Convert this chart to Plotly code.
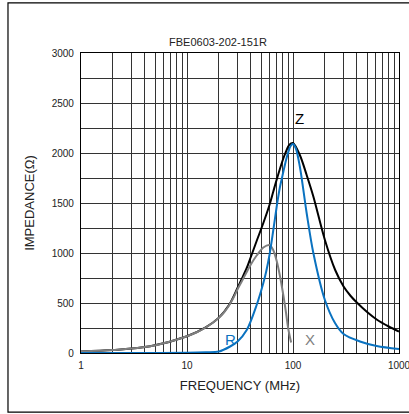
import math
import plotly.graph_objects as go

# Impedance vs frequency for FBE0603-202-151R
freq_z = [1, 2, 4.5, 10, 15, 20, 25, 30, 33, 36.6, 40, 45.4, 52.5, 60, 65, 70.2,
          81, 86, 90.3, 96, 100, 116, 134.5, 155.6, 200, 250, 300, 350, 400, 500,
          616, 800, 1000]
z_vals = [15, 30, 67, 168, 256, 354, 482, 652, 745, 850, 960, 1120, 1300, 1480,
          1610, 1735, 1945, 2015, 2068, 2096, 2100, 1980, 1780, 1565, 1130, 830,
          665, 570, 505, 410, 335, 265, 215]

freq_x = [1, 2, 4.5, 10, 12.5, 15, 17.5, 20, 22.5, 25, 27.5, 30, 33, 36.6, 40,
          45.4, 52.5, 60, 65, 70.2, 75, 81, 86, 90.3, 96]
x_vals = [15, 30, 67, 168, 210, 255, 302, 352, 410, 478, 555, 638, 720, 810, 885,
          975, 1055, 1080, 1030, 920, 780, 580, 400, 240, 105]

freq_r = [1, 5, 10, 15, 20, 25.5, 30, 36.6, 45.4, 52.5, 56, 60, 65, 70.2, 75, 81,
          86, 90.3, 95, 100, 106, 116, 134.5, 155.6, 200, 249, 300, 428, 616, 1000]
r_vals = [0, 0, 3, 8, 15, 65, 115, 230, 480, 700, 820, 980, 1220, 1465, 1650, 1810,
          1930, 2010, 2070, 2090, 2050, 1865, 1400, 1000, 530, 300, 190, 115, 70, 40]

x_ticks = [m * 10 ** d for d in range(3) for m in range(1, 10)] + [1000]
x_ticktext = [str(v) if v in (1, 10, 100, 1000) else "" for v in x_ticks]
y_ticks = list(range(0, 3001, 250))
y_ticktext = [str(v) if v % 500 == 0 else "" for v in y_ticks]

BLACK = "#000000"
BLUE = "#0a72c0"
GRAY = "#7f7f7f"
FONT = "Liberation Sans, Arial, sans-serif"
NARROW = "Liberation Sans Narrow, Liberation Sans, Arial, sans-serif"

fig = go.Figure()
fig.add_trace(go.Scatter(x=freq_z, y=z_vals, mode="lines", name="Z",
                         line=dict(color=BLACK, width=2, shape="spline", smoothing=0.9)))
fig.add_trace(go.Scatter(x=freq_x, y=x_vals, mode="lines", name="X",
                         line=dict(color=GRAY, width=2, shape="spline", smoothing=0.9)))
fig.add_trace(go.Scatter(x=freq_r, y=r_vals, mode="lines", name="R",
                         line=dict(color=BLUE, width=2, shape="spline", smoothing=0.9)))

# curve labels (annotation x on a log axis is given in log10 units)
labels = [("Z", 116, 2350, BLACK), ("R", 26, 140, BLUE), ("X", 145, 140, GRAY)]
for text, fx, fy, col in labels:
    fig.add_annotation(x=math.log10(fx), y=fy, text=text, showarrow=False,
                       xref="x", yref="y",
                       font=dict(family=NARROW, size=15, color=col))

# outer frame around the whole chart
fig.add_shape(type="rect", xref="paper", yref="paper",
              x0=-0.2296, x1=1.05, y0=-0.197, y1=1.167,
              line=dict(color="#000000", width=1.2), layer="below")

fig.update_layout(
    width=409, height=414,
    margin=dict(l=81, r=10, t=53, b=61),
    paper_bgcolor="white", plot_bgcolor="white",
    showlegend=False,
    font=dict(family=FONT, size=10, color="#222222"),
    title=dict(text="FBE0603-202-151R", x=0.533, xanchor="center",
               y=1 - 42 / 414, yanchor="middle",
               font=dict(family=FONT, size=11, color="#222222")),
)
fig.update_xaxes(
    type="log", range=[0, 3], automargin=False,
    tickmode="array", tickvals=x_ticks, ticktext=x_ticktext,
    ticklabeloverflow="allow",
    showgrid=True, gridcolor="#333333", gridwidth=1.3,
    showline=True, linecolor="#000000", linewidth=1.2, mirror=True,
    ticks="outside", ticklen=3, tickcolor="rgba(0,0,0,0)",
    tickfont=dict(family=FONT, size=10, color="#222222"),
    title=dict(text="FREQUENCY (MHz)", font=dict(family=FONT, size=13, color="#222222"),
               standoff=10),
    zeroline=False,
)
fig.update_yaxes(
    range=[0, 3000],
    tickmode="array", tickvals=y_ticks, ticktext=y_ticktext,
    showgrid=True, gridcolor="#333333", gridwidth=1.3,
    showline=True, linecolor="#000000", linewidth=1.2, mirror=True,
    ticks="outside", ticklen=4, tickcolor="rgba(0,0,0,0)",
    tickfont=dict(family=FONT, size=10, color="#222222"),
    title=dict(text="IMPEDANCE(Ω)", font=dict(family=FONT, size=13, color="#222222"),
               standoff=14),
    zeroline=False,
)

fig.write_html("out.html")
